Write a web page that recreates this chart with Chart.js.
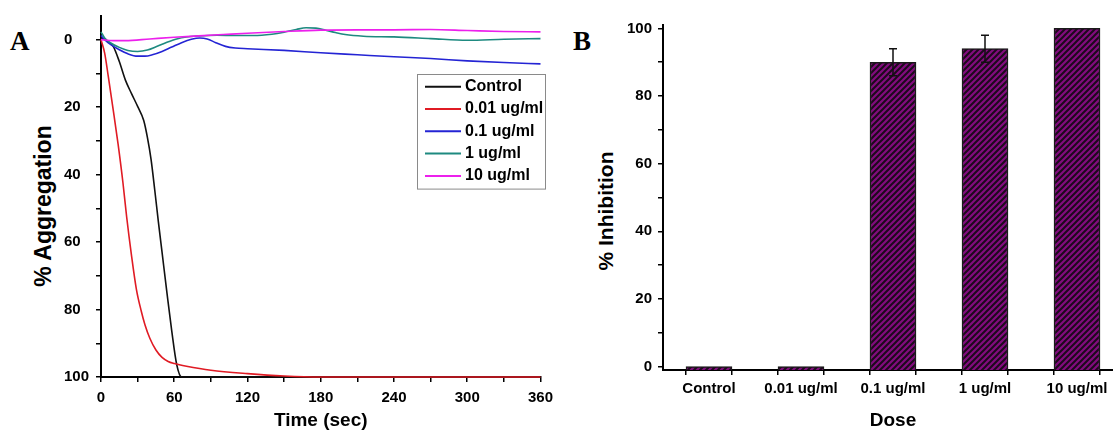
<!DOCTYPE html>
<html>
<head>
<meta charset="utf-8">
<script src="https://cdn.jsdelivr.net/npm/chart.js@4.4.1/dist/chart.umd.min.js"></script>
<style>
  html, body { margin: 0; padding: 0; background: #fff; }
  body { width: 1113px; height: 432px; position: relative; overflow: hidden; }
  canvas { position: absolute; top: 0; }
  #aggChart { left: 0; }
  #inhChart { left: 560px; }
  .panel { position: absolute; font: bold 27px "Liberation Serif", "Times New Roman", serif; line-height: 1; color: #000; }
  .ytitle { position: absolute; font-family: "Liberation Sans", Arial, sans-serif; font-weight: bold; line-height: 1;
            white-space: nowrap; color: #000; transform: translate(-50%, -50%) rotate(-90deg); }
</style>
</head>
<body>
<div class="panel" style="left:10px; top:28px;">A</div>
<div class="panel" style="left:573px; top:28px;">B</div>
<div class="ytitle" style="left:43px; top:206px; font-size:23px;">% Aggregation</div>
<div class="ytitle" style="left:605px; top:211px; font-size:21px;">% Inhibition</div>
<canvas id="aggChart" width="560" height="432"></canvas>
<canvas id="inhChart" width="570" height="432"></canvas>
<script>
const doses = ['Control', '0.01 ug/ml', '0.1 ug/ml', '1 ug/ml', '10 ug/ml'];

// aggregation traces: time (sec) and % aggregation
const controlTime = [0, 5, 10, 15, 20, 25, 30, 35, 38, 41, 44, 47, 50, 54, 58, 62, 66, 120, 240, 360];
const controlAgg  = [-0.5, 0.4, 2, 6.5, 12, 16, 19.8, 24, 29, 35.5, 44.5, 54, 63, 75, 86.5, 96.3, 100, 100, 100, 100];

const lowTime = [0, 3, 6, 10, 14, 18, 21, 25, 29, 33, 36, 40, 45, 50, 55, 60, 70, 90, 120, 150, 180, 360];
const lowAgg  = [0, 4, 11, 20.8, 31, 42.5, 52.5, 64, 74, 80.5, 84.5, 88.5, 92, 94.2, 95.4, 96, 96.8, 98, 99, 99.7, 100, 100];

const midTime = [0, 3, 8, 15, 22, 30, 36, 42, 50, 58, 66, 74, 81, 87, 94, 102, 110, 120, 150, 180, 210, 240, 270, 300, 330, 360];
const midAgg  = [-1.2, 0, 1.5, 3, 4.2, 4.9, 4.9, 4.5, 3.5, 2.2, 0.9, -0.1, -0.5, -0.2, 0.9, 2, 2.5, 2.7, 3.2, 3.9, 4.5, 5.1, 5.6, 6.3, 6.8, 7.2];

const oneTime = [0, 3, 8, 15, 22, 30, 38, 46, 54, 62, 70, 80, 95, 110, 125, 140, 150, 160, 168, 176, 184, 192, 200, 215, 240, 270, 300, 330, 360];
const oneAgg  = [-2.3, -0.5, 1, 2.3, 3.2, 3.5, 3.1, 2, 0.8, -0.2, -0.8, -1.1, -1.3, -1.2, -1.2, -1.6, -2.2, -3, -3.5, -3.4, -2.8, -2.1, -1.5, -1.0, -0.8, -0.3, 0.2, -0.1, -0.3];

const tenTime = [0, 10, 20, 40, 60, 80, 100, 120, 150, 180, 210, 240, 270, 300, 330, 360];
const tenAgg  = [0, 0.3, 0.3, -0.2, -0.7, -1.1, -1.5, -1.9, -2.4, -2.8, -2.9, -2.9, -3.0, -2.7, -2.4, -2.3];

const timeTicks = [0, 30, 60, 90, 120, 150, 180, 210, 240, 270, 300, 330, 360];
const aggTicks = [0, 10, 20, 30, 40, 50, 60, 70, 80, 90, 100];

// dose response
const inhibition = [0, 0, 90, 94, 100];
const inhibitionErr = [0, 0, 4, 4, 0];
const inhibTicks = [0, 10, 20, 30, 40, 50, 60, 70, 80, 90, 100];
const doseTicks = [-0.5, 0, 0.5, 1, 1.5, 2, 2.5, 3, 3.5, 4, 4.5];

const FONT = '"Liberation Sans", Arial, sans-serif';
const lineColors = ['#111111', '#e01b24', '#2424d4', '#1e8a80', '#ec20ec'];

Chart.defaults.font.family = FONT;
Chart.defaults.color = '#000';

const tickFont = {family: FONT, size: 15, weight: 'bold'};
const titleFont = {family: FONT, size: 19, weight: 'bold'};
const tickGrid = {display: true, drawOnChartArea: false, drawTicks: true, tickLength: 5, color: '#000', lineWidth: 1.5};
const axisBorder = {display: true, color: '#000', width: 2};

// legend drawn as a framed box inside the plot
const boxLegend = {
    id: 'boxLegend',
    afterDatasetsDraw(chart, args, opts) {
        const ctx = chart.ctx;
        const sets = chart.data.datasets;
        const height = opts.rowTop * 2 + (sets.length - 1) * opts.rowHeight;
        ctx.save();
        ctx.fillStyle = '#fff';
        ctx.fillRect(opts.left, opts.top, opts.width, height);
        ctx.strokeStyle = '#8a8a8a';
        ctx.lineWidth = 1;
        ctx.strokeRect(opts.left + 0.5, opts.top + 0.5, opts.width, height);
        ctx.font = `bold 16px ${FONT}`;
        ctx.textBaseline = 'middle';
        sets.forEach((ds, i) => {
            const y = opts.top + opts.rowTop + i * opts.rowHeight;
            ctx.strokeStyle = ds.borderColor;
            ctx.lineWidth = 2;
            ctx.beginPath();
            ctx.moveTo(opts.left + 8, y);
            ctx.lineTo(opts.left + 44, y);
            ctx.stroke();
            ctx.fillStyle = '#000';
            ctx.fillText(ds.label, opts.left + 48, y);
        });
        ctx.restore();
    }
};

const traces = [[controlTime, controlAgg], [lowTime, lowAgg], [midTime, midAgg], [oneTime, oneAgg], [tenTime, tenAgg]];

new Chart(document.getElementById('aggChart'), {
    type: 'line',
    data: {
        datasets: traces.map(([t, v], i) => ({
            label: doses[i],
            data: t.map((x, k) => ({x, y: v[k]})),
            borderColor: lineColors[i],
            borderWidth: 1.6,
            pointRadius: 0,
            cubicInterpolationMode: 'monotone',
            clip: false,
            order: traces.length - i
        }))
    },
    options: {
        responsive: false,
        animation: false,
        layout: {padding: {left: 64, top: 16, right: 14, bottom: 0}},
        plugins: {
            legend: {display: false},
            tooltip: {enabled: false},
            boxLegend: {left: 417, top: 74, width: 128, rowTop: 12.7, rowHeight: 22.3}
        },
        scales: {
            x: {
                type: 'linear', min: 0, max: 360,
                afterBuildTicks: s => { s.ticks = timeTicks.map(v => ({value: v})); },
                afterFit: s => { s.height = 55; },
                ticks: {font: tickFont, color: '#000', padding: 7, maxRotation: 0, autoSkip: false,
                        callback: v => v % 60 === 0 ? v : ''},
                grid: tickGrid,
                border: axisBorder,
                title: {display: true, text: 'Time (sec)', font: titleFont, color: '#000', padding: 0}
            },
            y: {
                type: 'linear', reverse: true, min: -7, max: 100,
                afterBuildTicks: s => { s.ticks = aggTicks.map(v => ({value: v})); },
                afterFit: s => { s.width = 37; },
                ticks: {font: tickFont, color: '#000', padding: 5, crossAlign: 'far', autoSkip: false,
                        callback: v => v % 20 === 0 ? v : ''},
                grid: tickGrid,
                border: axisBorder
            }
        }
    },
    plugins: [boxLegend]
});

// purple bars with dark diagonal hatching
const inhCanvas = document.getElementById('inhChart');
function hatch(ctx, bg, fg) {
    const tile = document.createElement('canvas');
    tile.width = tile.height = 6;
    const c = tile.getContext('2d');
    c.fillStyle = bg;
    c.fillRect(0, 0, 6, 6);
    c.strokeStyle = fg;
    c.lineWidth = 2;
    c.beginPath();
    c.moveTo(-1, 7); c.lineTo(7, -1);
    c.moveTo(-4, 4); c.lineTo(4, -4);
    c.moveTo(2, 10); c.lineTo(10, 2);
    c.stroke();
    return ctx.createPattern(tile, 'repeat');
}

const errorBars = {
    id: 'errorBars',
    afterDatasetsDraw(chart) {
        const {ctx, scales: {y}} = chart;
        const bars = chart.getDatasetMeta(0).data;
        ctx.save();
        ctx.strokeStyle = '#111';
        ctx.lineWidth = 1.5;
        bars.forEach((bar, i) => {
            const err = inhibitionErr[i];
            if (!err) return;
            const hi = y.getPixelForValue(inhibition[i] + err);
            const lo = y.getPixelForValue(inhibition[i] - err);
            ctx.beginPath();
            ctx.moveTo(bar.x, hi); ctx.lineTo(bar.x, lo);
            ctx.moveTo(bar.x - 4, hi); ctx.lineTo(bar.x + 4, hi);
            ctx.moveTo(bar.x - 4, lo); ctx.lineTo(bar.x + 4, lo);
            ctx.stroke();
        });
        ctx.restore();
    }
};

new Chart(inhCanvas, {
    type: 'bar',
    data: {
        datasets: [{
            data: doses.map((d, i) => ({x: i, y: inhibition[i]})),
            base: -1,
            backgroundColor: hatch(inhCanvas.getContext('2d'), '#820c7e', '#1c0a1c'),
            borderColor: '#1a1a1a',
            borderWidth: 1.5,
            borderSkipped: 'start',
            // the tick ruler is half a category wide, so a full-width bar spans half a category
            barPercentage: 1,
            categoryPercentage: 1
        }]
    },
    options: {
        responsive: false,
        animation: false,
        layout: {padding: {left: 43, top: 25, right: 7, bottom: 0}},
        plugins: {legend: {display: false}, tooltip: {enabled: false}},
        scales: {
            x: {
                type: 'linear', min: -0.5, max: 4.5, offset: false,
                afterBuildTicks: s => { s.ticks = doseTicks.map(v => ({value: v})); },
                afterFit: s => { s.height = 62; },
                ticks: {font: tickFont, color: '#000', padding: 4.5, maxRotation: 0, autoSkip: false,
                        callback: v => Number.isInteger(v) ? doses[v] : ''},
                grid: tickGrid,
                border: axisBorder,
                title: {display: true, text: 'Dose', font: titleFont, color: '#000', padding: 0}
            },
            y: {
                type: 'linear', min: -1, max: 101,
                afterBuildTicks: s => { s.ticks = inhibTicks.map(v => ({value: v})); },
                afterFit: s => { s.width = 60; },
                ticks: {font: tickFont, color: '#000', padding: 6, autoSkip: false,
                        callback: v => v % 20 === 0 ? v : ''},
                grid: tickGrid,
                border: axisBorder
            }
        }
    },
    plugins: [errorBars]
});
</script>
</body>
</html>
